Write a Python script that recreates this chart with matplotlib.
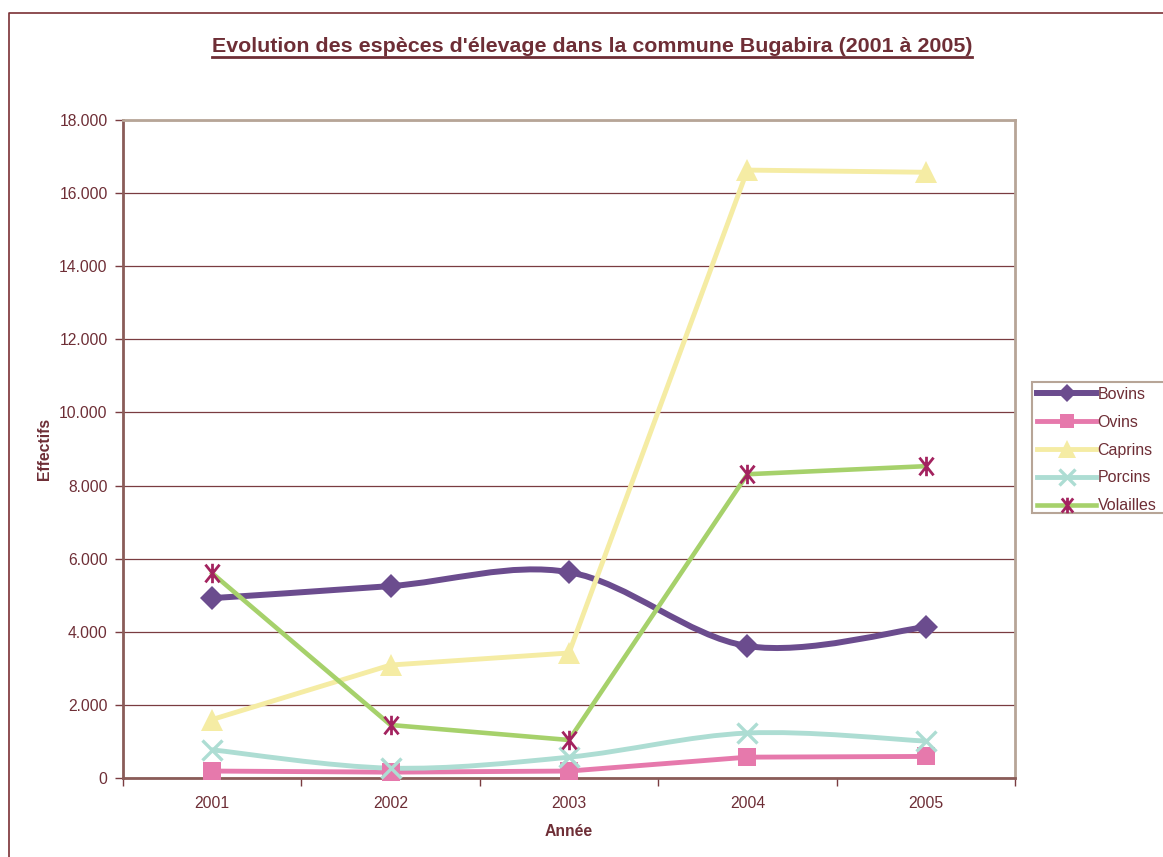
import numpy as np
import matplotlib
matplotlib.use("Agg")
import matplotlib.pyplot as plt
from matplotlib.path import Path
from matplotlib.patches import PathPatch, Rectangle
from matplotlib.lines import Line2D

plt.rcParams['font.family'] = ['Liberation Sans', 'DejaVu Sans']

# donnees
annees = ['2001', '2002', '2003', '2004', '2005']
bovins = [4920, 5250, 5630, 3610, 4130]
ovins = [190, 160, 190, 570, 590]
caprins = [1600, 3090, 3420, 16630, 16570]
porcins = [770, 270, 570, 1230, 1010]
volailles = [5600, 1450, 1040, 8310, 8530]

txt = '#6E2E36'
grid_c = '#7A3C40'
frame_c = '#B7A597'

# marqueur etoile (x + barre verticale)
star = Path([(-0.8, -1), (0.8, 1), (-0.8, 1), (0.8, -1), (0, -1.1), (0, 1.1)],
            [Path.MOVETO, Path.LINETO, Path.MOVETO, Path.LINETO, Path.MOVETO, Path.LINETO])

series = [
    ('Bovins', bovins, '#6B4C8E', 'D', 12, '#6B4C8E', 0, True, 4.3),
    ('Ovins', ovins, '#E679AC', 's', 13, '#E679AC', 0, False, 3.5),
    ('Caprins', caprins, '#F5ECA4', '^', 16, '#F5ECA4', 0, False, 3.5),
    ('Porcins', porcins, '#ADDDD3', 'x', 14, '#ADDDD3', 2.4, True, 3.5),
    ('Volailles', volailles, '#A6D16B', star, 14, '#A3235F', 2.0, False, 3.3),
]


def smooth_path(x, y):
    # courbe de Bezier a la maniere du lissage Excel
    pts = np.column_stack([x, y]).astype(float)
    n = len(pts)
    verts = [pts[0]]
    codes = [Path.MOVETO]
    for i in range(n - 1):
        p0 = pts[i - 1] if i > 0 else pts[i]
        p1 = pts[i]
        p2 = pts[i + 1]
        p3 = pts[i + 2] if i + 2 < n else pts[i + 1]
        c1 = p1 + (p2 - p0) / 6.0
        c2 = p2 - (p3 - p1) / 6.0
        verts += [c1, c2, p2]
        codes += [Path.CURVE4] * 3
    return Path(verts, codes)


fig = plt.figure(figsize=(11.63, 8.57), dpi=100)
ax = fig.add_axes([123 / 1163, 1 - 778 / 857, (1015 - 123) / 1163, (778 - 120) / 857])

x = np.arange(1, len(annees) + 1)
handles = []
for name, vals, lc, mk, ms, mc, mew, smooth, lw in series:
    if smooth:
        ax.add_patch(PathPatch(smooth_path(x, vals), fill=False, edgecolor=lc,
                               lw=lw, capstyle='round', joinstyle='round', zorder=3))
    else:
        ax.plot(x, vals, color=lc, lw=lw, zorder=3, solid_joinstyle='round')
    ax.plot(x, vals, ls='none', marker=mk, ms=ms, color=mc, mec=mc, mew=mew, zorder=4,
            clip_on=False)
    handles.append(Line2D([], [], color=lc, lw=lw, marker=mk, ms=ms * 0.8,
                          mfc=mc, mec=mc, mew=mew))

ax.set_xlim(0.5, len(annees) + 0.5)
ax.set_ylim(0, 18000)
ax.set_yticks(np.arange(0, 18001, 2000))
ax.set_yticklabels(['0'] + [f'{v // 1000}.000' for v in range(2000, 18001, 2000)])
ax.set_xticks(x)
ax.set_xticklabels(annees)
ax.set_xticks(np.arange(0.5, len(annees) + 1, 1), minor=True)
ax.tick_params(axis='x', which='major', length=0, pad=13, labelsize=11.3, labelcolor=txt)
ax.tick_params(axis='x', which='minor', length=6, width=1, color=grid_c, direction='out')
ax.tick_params(axis='y', length=6, width=1, color=grid_c, direction='out', pad=5,
               labelsize=11.3, labelcolor=txt)
ax.yaxis.grid(True, color=grid_c, lw=0.9)
ax.set_axisbelow(True)

for s in ['top', 'right']:
    ax.spines[s].set_color(frame_c)
    ax.spines[s].set_linewidth(2)
for s in ['left', 'bottom']:
    ax.spines[s].set_color('#8A5C58')
    ax.spines[s].set_linewidth(2)

ax.set_xlabel('Année', fontsize=11.3, fontweight='bold', color=txt, labelpad=9)
ax.set_ylabel('Effectifs', fontsize=11.3, fontweight='bold', color=txt, labelpad=5)

# legende (cadre coupe par le bord droit)
fig.add_artist(Rectangle((1032 / 1163, 1 - 513 / 857), 0.2, (513 - 382) / 857,
                         transform=fig.transFigure, facecolor='white',
                         edgecolor=frame_c, lw=1.5, zorder=5))
leg = fig.legend(handles, [s[0] for s in series], loc='upper left',
                 bbox_to_anchor=(1033 / 1163, 1 - 383 / 857), fontsize=11.5,
                 labelcolor=txt, handlelength=3.7, handletextpad=0.1,
                 labelspacing=0.8, borderpad=0.25, borderaxespad=0,
                 frameon=False)
leg.set_zorder(6)

title = fig.text(592 / 1163, 1 - 47 / 857,
                 "Evolution des espèces d'élevage dans la commune Bugabira (2001 à 2005)",
                 ha='center', va='center', fontsize=15.4, fontweight='bold', color=txt)

# soulignement du titre
fig.canvas.draw()
bb = title.get_window_extent().transformed(fig.transFigure.inverted())
fig.add_artist(Line2D([bb.x0, bb.x1], [bb.y0 - 0.001, bb.y0 - 0.001],
                      transform=fig.transFigure, color=txt, lw=2))

# cadre du graphique
fig.add_artist(Line2D([8.5 / 1163, 8.5 / 1163, 1.01], [-0.01, 1 - 12.5 / 857, 1 - 12.5 / 857],
                      transform=fig.transFigure, color='#7A3035', lw=1.2))

fig.savefig('out.png', dpi=100)
